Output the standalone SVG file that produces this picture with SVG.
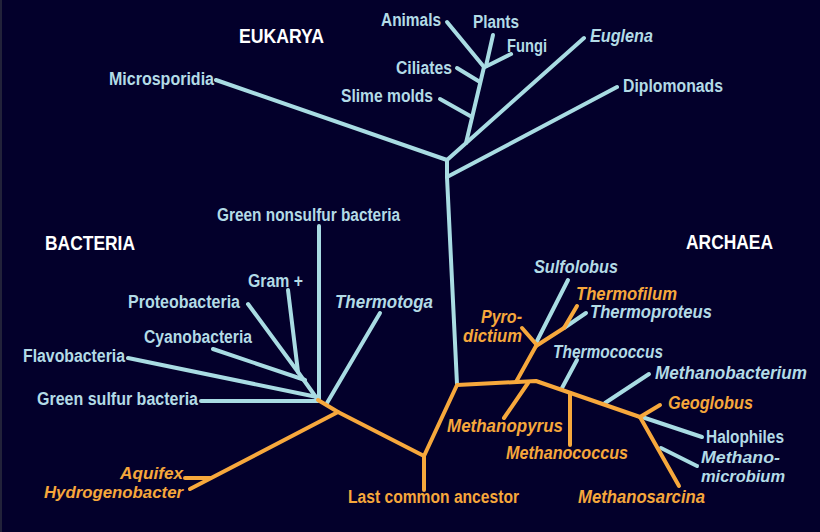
<svg xmlns="http://www.w3.org/2000/svg" width="820" height="532" viewBox="0 0 820 532">
<style>
.bg{fill:#03002b}
.b{fill:none;stroke:#a9dce3;stroke-width:4;stroke-linecap:round;stroke-linejoin:round}
.o{fill:none;stroke:#f7a83c;stroke-width:4;stroke-linecap:round;stroke-linejoin:round}
text{font-family:"Liberation Sans",Arial,sans-serif;font-weight:bold}
.t{font-size:17.5px;fill:#b3dbe6}
.ti{font-size:17.5px;fill:#b3dbe6;font-style:italic}
.to{font-size:17.5px;fill:#f6a73b}
.toi{font-size:17.5px;fill:#f6a73b;font-style:italic}
.sm{font-size:16.5px}
.h{font-size:19.5px;fill:#ffffff}
</style>
<rect class="bg" x="0" y="0" width="820" height="532"/>
<rect x="0" y="0" width="2" height="532" fill="#22223a"/>
<g id="connectors">
  <!-- Eukarya -->
  <path class="b" d="M457,384 L447,177 L447,160"/>
  <path class="b" d="M216,80 L447,160"/>
  <path class="b" d="M447,177 L617,87"/>
  <path class="b" d="M447,160 L584,38"/>
  <path class="b" d="M466,143 L484,67"/>
  <path class="b" d="M440,99 L472,117"/>
  <path class="b" d="M457,68 L480,82"/>
  <path class="b" d="M447,22 L484,67"/>
  <path class="b" d="M493,35 L486,66"/>
  <path class="b" d="M511,54 L485,67"/>
  <!-- Bacteria -->
  <path class="b" d="M319,226 L319,400"/>
  <path class="b" d="M288,290 L298,372 L318,400"/>
  <path class="b" d="M248,304 L298,372"/>
  <path class="b" d="M213,349 L305,380"/>
  <path class="b" d="M128,358 L317,397"/>
  <path class="b" d="M201,401 L318,401"/>
  <path class="b" d="M380,313 L327,403"/>
  <path class="o" d="M318,400 L338,412 L424,456 L424,490"/>
  <path class="o" d="M338,412 L190,489"/>
  <path class="o" d="M185,478 L210,478"/>
  <!-- Archaea -->
  <path class="b" d="M568,280 L537,341"/>
  <path class="b" d="M564,328 L586,313"/>
  <path class="b" d="M577,360 L562,388"/>
  <path class="b" d="M649,374 L605,403"/>
  <path class="b" d="M642,417 L702,437"/>
  <path class="b" d="M661,448 L697,466"/>
  <path class="o" d="M424,456 L457,385 L536,381 L640,417"/>
  <path class="o" d="M516,382 L536,346"/>
  <path class="o" d="M522,328 L536,344"/>
  <path class="o" d="M536,346 L564,328 L577,306"/>
  <path class="o" d="M528,383 L504,418"/>
  <path class="o" d="M570,393 L570,445"/>
  <path class="o" d="M640,417 L660,405"/>
  <path class="o" d="M640,417 L679,486"/>
</g>
<g id="eukarya-title"><text class="h" x="239" y="43" textLength="85" lengthAdjust="spacingAndGlyphs">EUKARYA</text></g>
<g id="bacteria-title"><text class="h" x="45" y="250" textLength="90" lengthAdjust="spacingAndGlyphs">BACTERIA</text></g>
<g id="archaea-title"><text class="h" x="686" y="249" textLength="87" lengthAdjust="spacingAndGlyphs">ARCHAEA</text></g>
<g id="animals"><text class="t" x="381" y="26" textLength="60" lengthAdjust="spacingAndGlyphs">Animals</text></g>
<g id="plants"><text class="t" x="473" y="28" textLength="46" lengthAdjust="spacingAndGlyphs">Plants</text></g>
<g id="fungi"><text class="t" x="507" y="52" textLength="40" lengthAdjust="spacingAndGlyphs">Fungi</text></g>
<g id="euglena"><text class="ti" x="590" y="42" textLength="63" lengthAdjust="spacingAndGlyphs">Euglena</text></g>
<g id="ciliates"><text class="t" x="396" y="74" textLength="56" lengthAdjust="spacingAndGlyphs">Ciliates</text></g>
<g id="slime-molds"><text class="t" x="341" y="102" textLength="92" lengthAdjust="spacingAndGlyphs">Slime molds</text></g>
<g id="microsporidia"><text class="t" x="109" y="85" textLength="105" lengthAdjust="spacingAndGlyphs">Microsporidia</text></g>
<g id="diplomonads"><text class="t" x="623" y="92" textLength="100" lengthAdjust="spacingAndGlyphs">Diplomonads</text></g>
<g id="green-nonsulfur"><text class="t" x="217" y="221" textLength="183" lengthAdjust="spacingAndGlyphs">Green nonsulfur bacteria</text></g>
<g id="gram-plus"><text class="t" x="248" y="287" textLength="55" lengthAdjust="spacingAndGlyphs">Gram +</text></g>
<g id="proteobacteria"><text class="t" x="128" y="308" textLength="112" lengthAdjust="spacingAndGlyphs">Proteobacteria</text></g>
<g id="thermotoga"><text class="ti" x="335" y="308" textLength="98" lengthAdjust="spacingAndGlyphs">Thermotoga</text></g>
<g id="cyanobacteria"><text class="t" x="144" y="343" textLength="108" lengthAdjust="spacingAndGlyphs">Cyanobacteria</text></g>
<g id="flavobacteria"><text class="t" x="23" y="362" textLength="102" lengthAdjust="spacingAndGlyphs">Flavobacteria</text></g>
<g id="green-sulfur"><text class="t" x="37" y="405" textLength="161" lengthAdjust="spacingAndGlyphs">Green sulfur bacteria</text></g>
<g id="aquifex"><text class="toi sm" x="120" y="479" textLength="63" lengthAdjust="spacingAndGlyphs">Aquifex</text></g>
<g id="hydrogenobacter"><text class="toi sm" x="44" y="498" textLength="139" lengthAdjust="spacingAndGlyphs">Hydrogenobacter</text></g>
<g id="lca"><text class="to" x="348" y="503" textLength="171" lengthAdjust="spacingAndGlyphs">Last common ancestor</text></g>
<g id="sulfolobus"><text class="ti" x="534" y="273" textLength="84" lengthAdjust="spacingAndGlyphs">Sulfolobus</text></g>
<g id="thermofilum"><text class="toi" x="576" y="300" textLength="101" lengthAdjust="spacingAndGlyphs">Thermofilum</text></g>
<g id="thermoproteus"><text class="ti" x="590" y="318" textLength="122" lengthAdjust="spacingAndGlyphs">Thermoproteus</text></g>
<g id="pyrodictium"><text class="toi" x="481" y="323" textLength="41" lengthAdjust="spacingAndGlyphs">Pyro-</text><text class="toi" x="463" y="342" textLength="59" lengthAdjust="spacingAndGlyphs">dictium</text></g>
<g id="thermococcus"><text class="ti" x="553" y="358" textLength="110" lengthAdjust="spacingAndGlyphs">Thermococcus</text></g>
<g id="methanobacterium"><text class="ti" x="655" y="379" textLength="152" lengthAdjust="spacingAndGlyphs">Methanobacterium</text></g>
<g id="geoglobus"><text class="toi" x="668" y="409" textLength="85" lengthAdjust="spacingAndGlyphs">Geoglobus</text></g>
<g id="halophiles"><text class="t" x="706" y="443" textLength="78" lengthAdjust="spacingAndGlyphs">Halophiles</text></g>
<g id="methanomicrobium"><text class="ti sm" x="701" y="462.5" textLength="79" lengthAdjust="spacingAndGlyphs">Methano-</text><text class="ti sm" x="701" y="481.5" textLength="84" lengthAdjust="spacingAndGlyphs">microbium</text></g>
<g id="methanosarcina"><text class="toi" x="578" y="503" textLength="127" lengthAdjust="spacingAndGlyphs">Methanosarcina</text></g>
<g id="methanopyrus"><text class="toi" x="447" y="432" textLength="116" lengthAdjust="spacingAndGlyphs">Methanopyrus</text></g>
<g id="methanococcus"><text class="toi" x="506" y="459" textLength="122" lengthAdjust="spacingAndGlyphs">Methanococcus</text></g>
</svg>
